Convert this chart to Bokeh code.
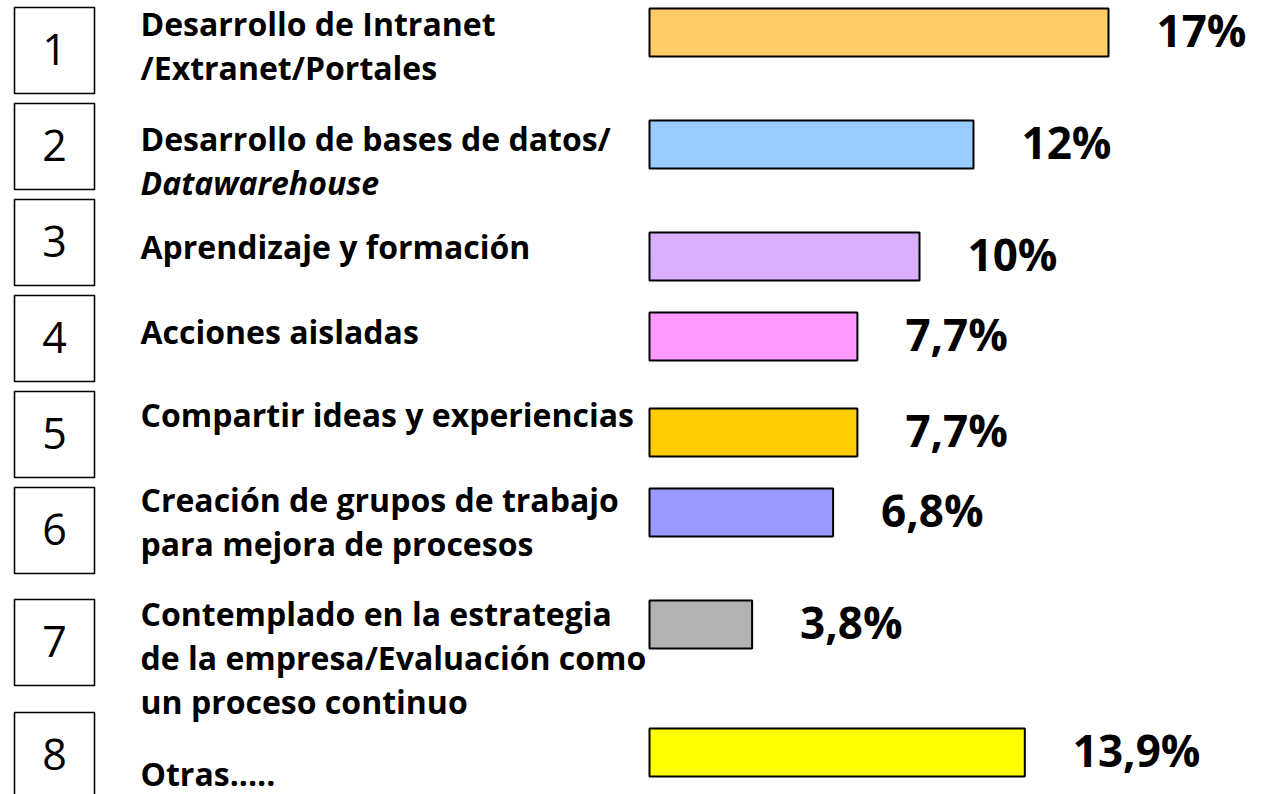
from bokeh.plotting import figure
from bokeh.models import Range1d, ColumnDataSource
from bokeh.core.properties import value
from bokeh.embed import file_html
from bokeh.resources import INLINE

# ---- data ----
numbers = ["1", "2", "3", "4", "5", "6", "7", "8"]
labels = [
    "Desarrollo de Intranet\n/Extranet/Portales",
    "Desarrollo de bases de datos/\nDatawarehouse",
    "Aprendizaje y formación",
    "Acciones aisladas",
    "Compartir ideas y experiencias",
    "Creación de grupos de trabajo\npara mejora de procesos",
    "Contemplado en la estrategia\nde la empresa/Evaluación como\nun proceso continuo",
    "Otras.....",
]
italic_lines = ["Datawarehouse"]
values = [17, 12, 10, 7.7, 7.7, 6.8, 3.8, 13.9]
colors = ["#FFCC66", "#99CCFF", "#D8B0FF", "#FF99FF", "#FFCC00", "#9999FF", "#B2B2B2", "#FFFF00"]

# ---- layout (pixels from top of page) ----
W, H = 1284, 794
X0 = 649          # pixel where bars start
K = 27.0          # pixels per percentage point
bar_centers = [32, 144, 256, 336, 432, 512, 624, 752]
bar_h = 48
box_tops = [7, 103, 199, 295, 391, 487, 599, 712]
box_h = 86
box_left_px, box_right_px = 14, 94
label_x_px = 140
label_first_baseline = [37, 152, 260, 345, 428, 513, 627, 787]
line_gap = 44
value_gap = 48
LABEL_FS = 32
NUM_FS = 43
VAL_FS = 44


def px(x):
    return (x - X0) / K


def base(y, fs):
    # compensate the renderer's baseline placement
    return y - 0.43 * fs


p = figure(width=W, height=H, output_backend="svg", toolbar_location=None,
           x_range=Range1d(px(0), px(W)), y_range=Range1d(H, 0),
           min_border=0, min_border_left=0, min_border_right=0,
           min_border_top=0, min_border_bottom=0)
p.axis.visible = False
p.grid.visible = False
p.outline_line_color = None
p.background_fill_color = "white"
p.border_fill_color = "white"

# number boxes
p.quad(left=[px(box_left_px)] * len(numbers), right=[px(box_right_px)] * len(numbers),
       top=box_tops, bottom=[t + box_h for t in box_tops],
       fill_color="white", line_color="black", line_width=1.6)
p.text(x=[px((box_left_px + box_right_px) / 2)] * len(numbers),
       y=[base(t + 60, NUM_FS) for t in box_tops], text=numbers,
       text_font=value("Open Sans"), text_font_size=f"{NUM_FS}px",
       text_align="center", text_baseline="alphabetic", text_color="black")

# category labels, one line per glyph
lx, ly, lt, ls = [], [], [], []
for i, lab in enumerate(labels):
    for k, line in enumerate(lab.split("\n")):
        lx.append(px(label_x_px))
        ly.append(base(label_first_baseline[i] + k * line_gap, LABEL_FS))
        lt.append(line)
        ls.append("bold italic" if line in italic_lines else "bold")
src = ColumnDataSource(dict(x=lx, y=ly, text=lt, style=ls))
p.text(x="x", y="y", text="text", source=src, text_font_style="style",
       text_font=value("Open Sans"), text_font_size=f"{LABEL_FS}px",
       text_align="left", text_baseline="alphabetic", text_color="black")

# bars
p.hbar(y=bar_centers, left=0, right=values, height=bar_h,
       fill_color=colors, line_color="black", line_width=2)

# value labels
val_text = [f"{v:g}".replace(".", ",") + "%" for v in values]
p.text(x=values, y=[base(c + 16, VAL_FS) for c in bar_centers], text=val_text,
       x_offset=value_gap,
       text_font=value("Open Sans"), text_font_size=f"{VAL_FS}px", text_font_style="bold",
       text_align="left", text_baseline="alphabetic", text_color="black")

open("out.html", "w").write(file_html(p, INLINE))
